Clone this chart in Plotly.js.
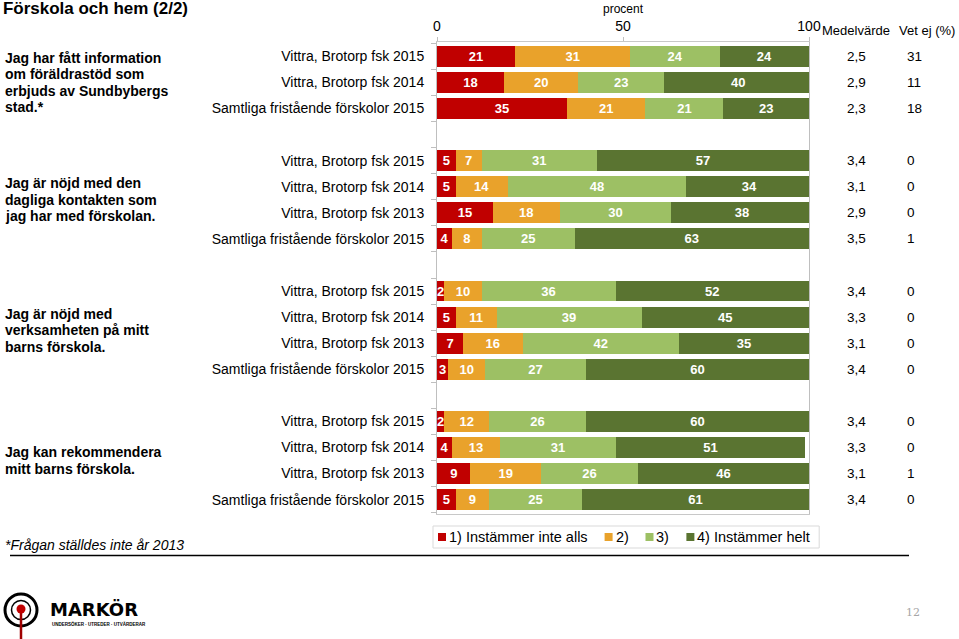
<!DOCTYPE html>
<html>
<head>
<meta charset="utf-8">
<script src="https://cdn.plot.ly/plotly-3.0.1.min.js"></script>
<style>html,body{margin:0;padding:0;background:#fff;}#chart{width:959px;height:639px;}</style>
</head>
<body>
<div id="chart"></div>
<script>
// ---------- data ----------
const questions = [
  "Jag har fått information\nom föräldrastöd som\nerbjuds av Sundbybergs\nstad.*",
  "Jag är nöjd med den\ndagliga kontakten som\njag har med förskolan.",
  "Jag är nöjd med\nverksamheten på mitt\nbarns förskola.",
  "Jag kan rekommendera\nmitt barns förskola."
];
const rowLabels = [
  ["Vittra, Brotorp fsk 2015", "Vittra, Brotorp fsk 2014", "Samtliga fristående förskolor 2015"],
  ["Vittra, Brotorp fsk 2015", "Vittra, Brotorp fsk 2014", "Vittra, Brotorp fsk 2013", "Samtliga fristående förskolor 2015"],
  ["Vittra, Brotorp fsk 2015", "Vittra, Brotorp fsk 2014", "Vittra, Brotorp fsk 2013", "Samtliga fristående förskolor 2015"],
  ["Vittra, Brotorp fsk 2015", "Vittra, Brotorp fsk 2014", "Vittra, Brotorp fsk 2013", "Samtliga fristående förskolor 2015"]
];
const s1 = [[21, 18, 35], [5, 5, 15, 4], [2, 5, 7, 3], [2, 4, 9, 5]];
const s2 = [[31, 20, 21], [7, 14, 18, 8], [10, 11, 16, 10], [12, 13, 19, 9]];
const s3 = [[24, 23, 21], [31, 48, 30, 25], [36, 39, 42, 27], [26, 31, 26, 25]];
const s4 = [[24, 40, 23], [57, 34, 38, 63], [52, 45, 35, 60], [60, 51, 46, 61]];
const means = [[2.5, 2.9, 2.3], [3.4, 3.1, 2.9, 3.5], [3.4, 3.3, 3.1, 3.4], [3.4, 3.3, 3.1, 3.4]];
const vetEj = [[31, 11, 18], [0, 0, 0, 1], [0, 0, 0, 0], [0, 0, 1, 0]];
const seriesNames = ["1) Instämmer inte alls", "2)", "3)", "4) Instämmer helt"];
const colors = ["#C00000", "#E9A22B", "#9DC064", "#5A7431"];
const tickVals = [0, 50, 100];
const axisTitle = "procent";
const colHeaders = ["Medelvärde", "Vet ej (%)"];
const pageTitle = "Förskola och hem (2/2)";
const footnote = "*Frågan ställdes inte år 2013";

// ---------- geometry helpers ----------
const W = 959, H = 639;
const L = 437, R = 809, T = 42, B = 514;
const PW = R - L, PH = B - T;
const X = px => (px - L) / PW;
const Y = py => (B - py) / PH;
const FONT = "'Liberation Sans', Arial, sans-serif";

// slot positions: groups separated by one empty slot
const ypos = [], ylab = [], groupPos = [];
let slot = 0;
rowLabels.forEach((g, gi) => {
  const ps = [];
  g.forEach(lbl => { ypos.push(slot); ylab.push(lbl); ps.push(slot); slot++; });
  groupPos.push(ps);
  slot++;
});
const maxSlot = slot - 2;
const boundaries = [];
for (let k = 0; k <= maxSlot + 1; k++) boundaries.push(k - 0.5);

const series = [s1, s2, s3, s4];
const traces = series.map((s, i) => {
  const vals = s.flat();
  return {
    type: 'bar', orientation: 'h', name: seriesNames[i],
    x: vals, y: ypos,
    marker: {color: colors[i], line: {width: 0}},
    text: vals.map(String), textposition: 'inside', insidetextanchor: 'middle',
    constraintext: 'none', textangle: 0,
    textfont: {family: FONT, size: 13, color: '#ffffff', weight: 'bold'},
    hoverinfo: 'skip', showlegend: false
  };
});

const annotations = [];
const shapes = [];

// column headers
annotations.push({xref: 'paper', yref: 'paper', x: X(856), y: Y(30), text: colHeaders[0], showarrow: false,
  xanchor: 'center', yanchor: 'middle', font: {family: FONT, size: 13, color: '#000'}});
annotations.push({xref: 'paper', yref: 'paper', x: X(957), y: Y(30), text: colHeaders[1], showarrow: false,
  xanchor: 'right', yanchor: 'middle', font: {family: FONT, size: 13, color: '#000'}});

// mean and "vet ej" columns
const meanFlat = means.flat(), vetFlat = vetEj.flat();
ypos.forEach((p, i) => {
  annotations.push({xref: 'paper', yref: 'y', x: X(845), y: p, text: meanFlat[i].toFixed(1).replace('.', ','),
    showarrow: false, xanchor: 'left', yanchor: 'middle', font: {family: FONT, size: 13.5, color: '#000'}});
  annotations.push({xref: 'paper', yref: 'y', x: X(905), y: p, text: String(vetFlat[i]),
    showarrow: false, xanchor: 'left', yanchor: 'middle', font: {family: FONT, size: 13.5, color: '#000'}});
});

// question labels
questions.forEach((q, qi) => {
  const lines = q.split("\n");
  const ps = groupPos[qi];
  const c = (ps[0] + ps[ps.length - 1]) / 2;
  lines.forEach((ln, li) => {
    annotations.push({xref: 'paper', yref: 'y', x: X(3), y: c, yshift: ((lines.length - 1) / 2 - li) * 16.5,
      text: '<b>' + ln + '</b>', showarrow: false, xanchor: 'left', yanchor: 'middle',
      font: {family: FONT, size: 14, color: '#000'}});
  });
});

// footnote
annotations.push({xref: 'paper', yref: 'paper', x: X(3), y: Y(545), text: '<i>' + footnote + '</i>', showarrow: false,
  xanchor: 'left', yanchor: 'middle', font: {family: FONT, size: 14, color: '#000'}});

// manual legend
const cv = document.createElement('canvas').getContext('2d');
cv.font = "14.5px 'Liberation Sans', Arial";
let lx = 438;
const ly = 537;
seriesNames.forEach((n, i) => {
  shapes.push({type: 'rect', xref: 'paper', yref: 'paper', x0: X(lx), x1: X(lx + 8), y0: Y(ly + 4), y1: Y(ly - 4),
    fillcolor: colors[i], line: {width: 0}});
  annotations.push({xref: 'paper', yref: 'paper', x: X(lx + 9), y: Y(ly), text: n, showarrow: false,
    xanchor: 'left', yanchor: 'middle', font: {family: FONT, size: 14.5, color: '#000'}});
  const tw = cv.measureText(n).width;
  lx = lx + 11 + tw + 17;
});
shapes.push({type: 'rect', xref: 'paper', yref: 'paper', x0: X(433), x1: X(lx - 8), y0: Y(548), y1: Y(526),
  line: {color: '#D9D9D9', width: 1}, fillcolor: 'rgba(0,0,0,0)', layer: 'below'});

// separator line
shapes.push({type: 'line', xref: 'paper', yref: 'paper', x0: X(10), x1: X(909), y0: Y(555.5), y1: Y(555.5),
  line: {color: '#000', width: 1.5}});

// logo
const cx = 21, cy = 610;
shapes.push({type: 'circle', xref: 'paper', yref: 'paper', x0: X(cx - 16), x1: X(cx + 16), y0: Y(cy + 16), y1: Y(cy - 16),
  line: {color: '#000', width: 3}});
shapes.push({type: 'circle', xref: 'paper', yref: 'paper', x0: X(cx - 9.5), x1: X(cx + 9.5), y0: Y(cy + 9.5), y1: Y(cy - 9.5),
  line: {color: '#000', width: 1.5}});
shapes.push({type: 'line', xref: 'paper', yref: 'paper', x0: X(cx), x1: X(cx), y0: Y(cy + 2), y1: Y(639),
  line: {color: '#A00000', width: 2.5}});
shapes.push({type: 'circle', xref: 'paper', yref: 'paper', x0: X(cx - 4.5), x1: X(cx + 4.5), y0: Y(cy + 3.5), y1: Y(cy - 5.5),
  fillcolor: '#C00000', line: {width: 0}});
annotations.push({xref: 'paper', yref: 'paper', x: X(48), y: Y(609), text: '<b>MARKÖR</b>', showarrow: false,
  xanchor: 'left', yanchor: 'middle', font: {family: "'DejaVu Sans', Arial", size: 18, color: '#000'}});
annotations.push({xref: 'paper', yref: 'paper', x: X(50), y: Y(624), text: '<b>UNDERSÖKER · UTREDER · UTVÄRDERAR</b>', showarrow: false,
  xanchor: 'left', yanchor: 'middle', font: {family: FONT, size: 4.5, color: '#000'}});

// page number
annotations.push({xref: 'paper', yref: 'paper', x: X(913), y: Y(612), text: '12', showarrow: false,
  xanchor: 'center', yanchor: 'middle', font: {family: "'DejaVu Serif', serif", size: 11, color: '#A6A6A6'}});

const layout = {
  width: W, height: H,
  margin: {l: L, r: W - R, t: T, b: H - B, pad: 0},
  paper_bgcolor: '#fff', plot_bgcolor: '#fff',
  barmode: 'stack', bargap: 0.2,
  showlegend: false,
  title: {text: '<b>' + pageTitle + '</b>', x: 0.003, xanchor: 'left', xref: 'container',
    y: 1 - 8.5 / H, yanchor: 'middle', yref: 'container', font: {family: FONT, size: 17, color: '#000'}},
  font: {family: FONT, color: '#000'},
  xaxis: {
    side: 'top', range: [0, 100], tickmode: 'array', tickvals: tickVals, ticktext: tickVals.map(String),
    ticks: 'outside', ticklen: 4, tickcolor: '#BFBFBF', showline: true, linecolor: '#C8C8C8', linewidth: 1,
    mirror: true, showgrid: false, zeroline: false, fixedrange: true,
    tickfont: {family: FONT, size: 14, color: '#000'},
    title: {text: axisTitle, font: {family: FONT, size: 12, color: '#000'}, standoff: 2}
  },
  yaxis: {
    range: [maxSlot + 0.55, -0.55], tickmode: 'array', tickvals: ypos, ticktext: ylab,
    ticks: 'outside', ticklen: 9, tickcolor: 'rgba(0,0,0,0)',
    minor: {tickmode: 'array', tickvals: boundaries, ticks: 'outside', ticklen: 5, tickcolor: '#BFBFBF', showgrid: false},
    showline: true, linecolor: '#BFBFBF', linewidth: 1, mirror: true,
    showgrid: false, zeroline: false, fixedrange: true,
    tickfont: {family: FONT, size: 14, color: '#000'}
  },
  annotations: annotations,
  shapes: shapes
};

Plotly.newPlot('chart', traces, layout, {displayModeBar: false, staticPlot: true});
</script>
</body>
</html>
